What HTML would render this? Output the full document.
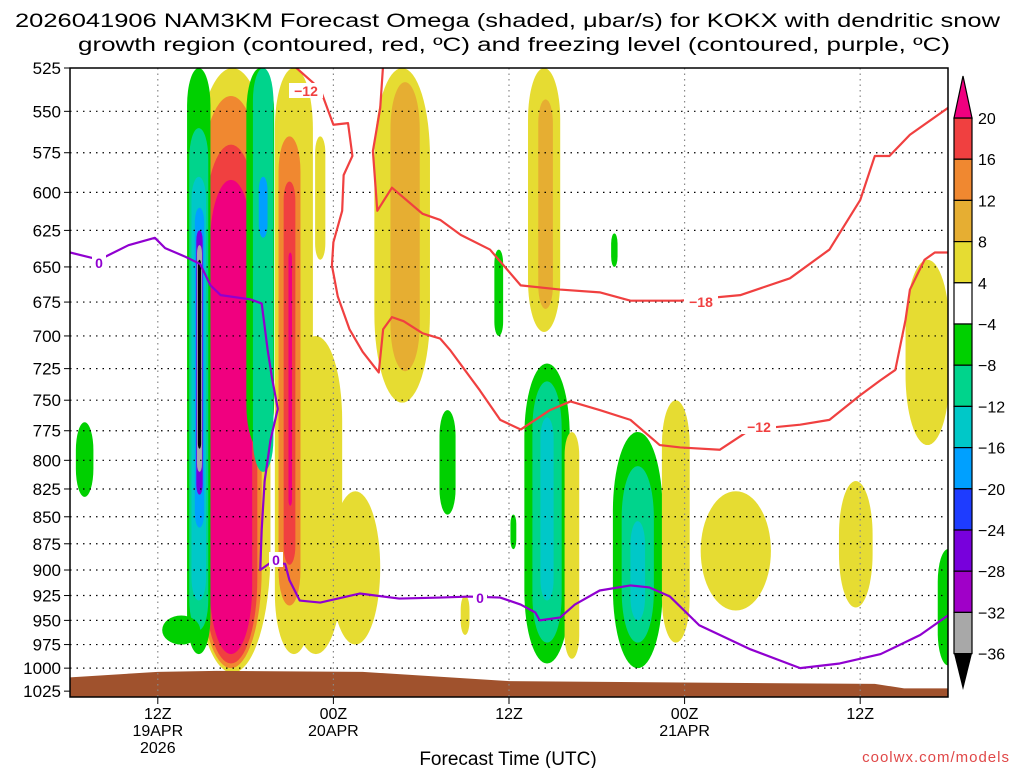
<!DOCTYPE html>
<html><head><meta charset="utf-8"><style>
html,body{margin:0;padding:0;background:#fff;}
svg{display:block;font-family:"Liberation Sans","DejaVu Sans",sans-serif;}
</style></head><body>
<svg id="chart" width="1024" height="768" viewBox="0 0 1024 768" xmlns="http://www.w3.org/2000/svg">
<defs><clipPath id="plotclip"><rect x="70" y="68" width="878" height="629"/></clipPath></defs>
<text x="15" y="27" font-size="19" textLength="985" lengthAdjust="spacingAndGlyphs">2026041906 NAM3KM Forecast Omega (shaded, μbar/s) for KOKX with dendritic snow</text>
<text x="78" y="51" font-size="19" textLength="872" lengthAdjust="spacingAndGlyphs">growth region (contoured, red, ºC) and freezing level (contoured, purple, ºC)</text>
<g id="plot" clip-path="url(#plotclip)"></g>
<g id="grid"></g>
<g id="lines" clip-path="url(#plotclip)"></g>
<rect x="70" y="68" width="878" height="629" fill="none" stroke="#000" stroke-width="1.5"/>
<g id="axes"></g>
<g id="cbar"></g>
<text x="508" y="765" font-size="19" text-anchor="middle">Forecast Time (UTC)</text>
<text x="1010" y="762" font-size="15" fill="#e04848" text-anchor="end" letter-spacing="1">coolwx.com/models</text>
</svg>
<script>
// ---- data ----
const pressureTicks=[525,550,575,600,625,650,675,700,725,750,775,800,825,850,875,900,925,950,975,1000,1025];
const timeTickHours=[6,18,30,42,54];
const levelColors=["#a8a8a8","#a000c8","#7800dc","#1e3cff","#00a0ff","#00c8c8","#00d48c","#00d000","#ffffff","#e6dc32","#e6ae32","#f08830","#f04040","#f0007f","#000000"];
const levelLabels=["20","16","12","8","4","−4","−8","−12","−16","−20","−24","−28","−32","−36"];
// blobs: center hour, half width (hours), top pressure, bottom pressure, color index
const blobHour=[11.1,11.0,11.0,11.0, 8.8,8.8,8.8,8.85,8.85,8.85,8.85, 7.6, 13.0,13.2,13.2, 15.3,16.8,19.5,17.1,15.0,15.0,15.05, 22.7,22.9, 32.4,32.5, 32.6,32.6,32.6, 38.8,38.8,38.8, 41.4,34.3,45.5,53.7,58.6,60.0, 1.0,25.8,29.3,37.2,30.3,27.0];
const blobHalf=[2.6,2.1,1.8,1.45, 0.8,0.65,0.5,0.32,0.22,0.17,0.11, 1.3, 0.95,0.7,0.3, 1.3,1.8,1.7,0.35,0.75,0.4,0.12, 1.9,1.0, 1.1,0.5, 1.55,1.0,0.45, 1.7,1.1,0.5, 0.95,0.5,2.4,1.15,1.5,0.7, 0.6,0.55,0.3,0.22,0.2,0.3];
const blobTop=[525,541,570,592, 525,560,590,610,625,635,645, 945, 525,525,590, 525,700,827,565,565,593,640, 525,533, 525,543, 721,735,764, 776,805,854, 750,776,827,818,645,880, 768,758,638,627,848,925];
const blobBot=[1005,1000,995,985, 985,960,930,860,830,810,790, 975, 790,810,630, 985,985,975,645,935,895,840, 752,727, 697,680, 995,973,930, 1000,973,950, 973,990,940,937,787,997, 832,848,700,650,880,965];
const blobLevel=[9,11,12,13, 7,6,5,4,2,0,14, 7, 7,6,4, 9,9,9,9,11,12,13, 9,10, 9,10, 7,6,5, 7,6,5, 9,9,9,9,9,7, 7,7,7,7,7,9];
// ground (surface pressure)
const groundHour=[0,6,10,20,30,45,55,57,60];
const groundP=[1010,1004,1003,1004,1014,1016,1017,1022,1022];
// freezing level (0 C)
const frzHour=[0,2,4,5.8,6.5,7.9,8.9,9.6,10.3,12.3,13.1,13.5,13.8,14.2,13.7,13.3,13.1,13,13.7,14.7,15,15.7,17.1,19.8,22.5,25.3,27.3,29.4,30.8,31.8,32.1,33.5,34.5,36.2,38.3,39.6,41,43,46.5,49.9,52.6,55.4,58.1,60];
const frzP=[640,645,635,630,637,643,648,663,670,673,676,710,732,757,783,818,862,900,893,894,910,930,932,923,928,927,926,927,934,942,950,947,934,920,915,917,926,955,980,1000,995,985,965,945];
// -12 C line
const m12Hour=[15.2,17.1,18.0,19.0,19.3,18.7,18.6,18.0,17.9,18.3,19.1,20.0,21.1,21.4,22.0,22.8,24.1,25.3,26.0,28.0,29.4,30.8,32.8,34.2,36.2,38.3,40.3,41.7,44.4,46.5,49.9,51.9,54.0,55.4,56.4,57.1,57.4,58.4,59.1,60];
const m12P=[523,537,558,557,577,589,612,633,649,671,695,712,728,695,686,689,698,702,711,742,766,774,758,751,758,766,787,789,791,774,770,766,746,734,726,688,666,645,640,640];
// -18 C line
const m18Hour=[21.4,21.2,20.7,21.0,22.0,24.1,25.3,26.7,28.7,30.8,33.5,36.2,38.3,41.7,45.8,49.2,51.9,54.0,55.0,56.0,57.4,60];
const m18P=[523,548,574,612,597,614,618,628,638,663,666,668,674,674,670,658,638,605,577,577,564,548];
// ---- axis functions ----
const X=h=>70+h*14.633;
const Y=p=>68+Math.log10(p/525)*2144.6;
const NS="http://www.w3.org/2000/svg";
function mk(tag,attrs,parent){const e=document.createElementNS(NS,tag);for(const k in attrs)e.setAttribute(k,attrs[k]);parent.appendChild(e);return e;}
const plot=document.getElementById('plot'),grid=document.getElementById('grid'),lines=document.getElementById('lines'),axes=document.getElementById('axes'),cbar=document.getElementById('cbar');
// blobs
for(let i=0;i<blobHour.length;i++){
 const x0=X(blobHour[i]-blobHalf[i]),w=X(blobHour[i]+blobHalf[i])-x0;
 const y0=Y(Math.max(blobTop[i],500)),h=Y(blobBot[i])-y0;
 const el=mk('rect',{x:x0,y:y0,width:w,height:h,rx:w/2,ry:Math.min(h/2,w*1.6),fill:levelColors[blobLevel[i]]},plot);
 
 
}
// ground
{let d='M'+X(groundHour[0])+','+Y(groundP[0]);
 for(let i=1;i<groundHour.length;i++)d+=' L'+X(groundHour[i])+','+Y(groundP[i]);
 d+=' L'+X(60)+',700 L'+X(0)+',700 Z';
 const g=mk('path',{d:d,fill:'#a0522d'},plot);
 
 }
// grid
pressureTicks.forEach((p,i)=>{
 const y=Y(p);
 if(i>0&&i<pressureTicks.length-1){const l=mk('line',{x1:70,x2:948,y1:y,y2:y,stroke:'#000','stroke-width':1.2,'stroke-dasharray':'1.5,5'},grid);
 
 }
 mk('line',{x1:64,x2:70,y1:y,y2:y,stroke:'#000'},axes);
 const t=mk('text',{x:61,y:y+6,'font-size':17,'text-anchor':'end'},axes);t.textContent=p;
 
 
});
const tl=[["12Z","19APR","2026"],["00Z","20APR"],["12Z"],["00Z","21APR"],["12Z"]];
timeTickHours.forEach((h,i)=>{
 const x=X(h);
 const l=mk('line',{x1:x,x2:x,y1:68,y2:697,stroke:'#888','stroke-width':1.2,'stroke-dasharray':'1.5,4'},grid);
 
 
 mk('line',{x1:x,x2:x,y1:697,y2:704,stroke:'#000'},axes);
 tl[i].forEach((s,j)=>{const t=mk('text',{x:x,y:719+j*17,'font-size':16,'text-anchor':'middle'},axes);t.textContent=s;
 
 });
});
// contour lines
function poly(hs,ps,color,name){let d='';hs.forEach((h,i)=>{d+=(i?' L':'M')+X(h)+','+Y(ps[i]);});
 const e=mk('path',{d:d,fill:'none',stroke:color,'stroke-width':2.2,'stroke-linejoin':'round'},lines);
 
 }
poly(m12Hour,m12P,'#f04040','contour-minus12');
poly(m18Hour,m18P,'#f04040','contour-minus18');
poly(frzHour,frzP,'#9000d0','freezing-level-line');
function lab(x,y,s,c,name){mk('rect',{x:x-s.length*5-2,y:y-8,width:s.length*10+4,height:15,fill:'#fff'},lines);
 const t=mk('text',{x:x,y:y+5,'font-size':14,'font-weight':'bold','text-anchor':'middle',fill:c},lines);t.textContent=s;
 
 }
lab(306,91,'−12','#f04040','label-minus12-a');
lab(701,302,'−18','#f04040','label-minus18');
lab(759,427,'−12','#f04040','label-minus12-b');
lab(99,263,'0','#9000d0','label-zero-a');
lab(276,560,'0','#9000d0','label-zero-b');
lab(480,598,'0','#9000d0','label-zero-c');
// colorbar
const cx=954,cw=18,top0=118,bh=41.2;
const cbCols=["#f04040","#f08830","#e6ae32","#e6dc32","#ffffff","#00d000","#00d48c","#00c8c8","#00a0ff","#1e3cff","#7800dc","#a000c8","#a8a8a8"];
for(let i=0;i<13;i++){
 const r=mk('rect',{x:cx,y:top0+i*bh,width:cw,height:bh,fill:cbCols[i],stroke:'#000','stroke-width':1.2},cbar);
 
 
}
{const t=mk('polygon',{points:`${cx},${top0} ${cx+cw},${top0} ${cx+cw/2},76`,fill:'#f0007f',stroke:'#000','stroke-width':1.2},cbar);
 
 
 const yb=top0+13*bh;
 const b=mk('polygon',{points:`${cx},${yb} ${cx+cw},${yb} ${cx+cw/2},690`,fill:'#000'},cbar);
 
 }
levelLabels.forEach((s,i)=>{const t=mk('text',{x:978,y:top0+i*bh+6,'font-size':16},cbar);t.textContent=s;
 
 });
</script>
</body></html>
